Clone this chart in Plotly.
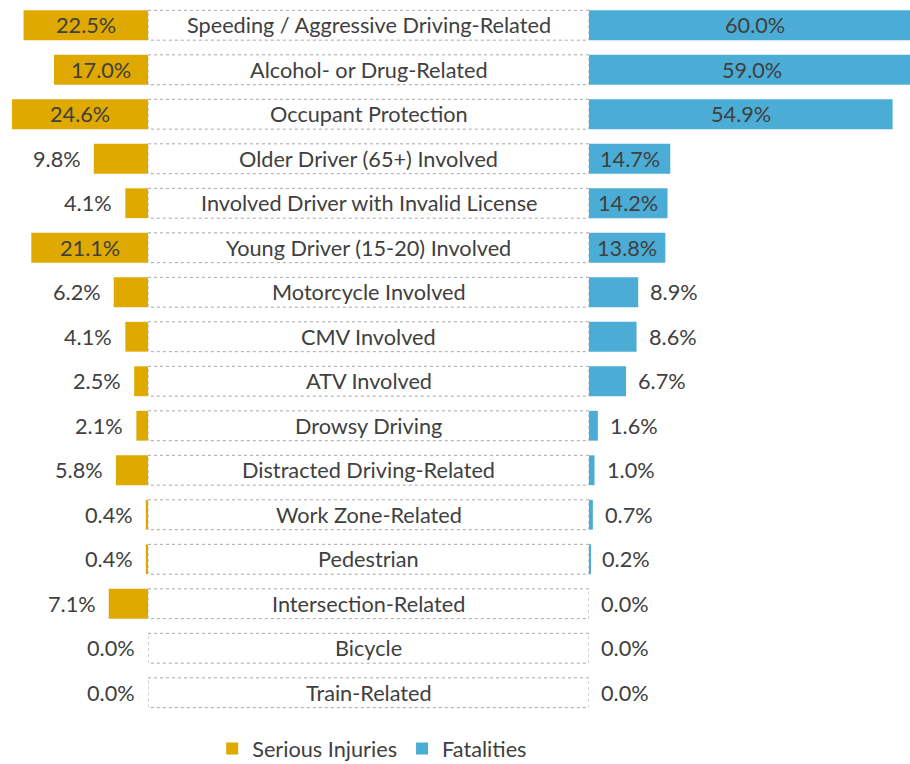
import plotly.graph_objects as go

categories = [
    "Speeding / Aggressive Driving-Related",
    "Alcohol- or Drug-Related",
    "Occupant Protection",
    "Older Driver (65+) Involved",
    "Involved Driver with Invalid License",
    "Young Driver (15-20) Involved",
    "Motorcycle Involved",
    "CMV Involved",
    "ATV Involved",
    "Drowsy Driving",
    "Distracted Driving-Related",
    "Work Zone-Related",
    "Pedestrian",
    "Intersection-Related",
    "Bicycle",
    "Train-Related",
]
serious_injuries = [22.5, 17.0, 24.6, 9.8, 4.1, 21.1, 6.2, 4.1, 2.5, 2.1, 5.8, 0.4, 0.4, 7.1, 0.0, 0.0]
fatalities = [60.0, 59.0, 54.9, 14.7, 14.2, 13.8, 8.9, 8.6, 6.7, 1.6, 1.0, 0.7, 0.2, 0.0, 0.0, 0.0]

GOLD = "#DFA900"
BLUE = "#4BADD5"
TXT = "#404040"
FONT = "Lato"
FS = 21.7

W, H = 910, 764
left_px, right_px = 148, 589
px_per_pct = 5.53

rows = list(range(len(categories)))

fig = go.Figure()

fig.add_trace(go.Bar(
    y=rows, x=serious_injuries, orientation="h", name="Serious Injuries",
    marker=dict(color=GOLD, line=dict(width=0)), xaxis="x", yaxis="y",
    hoverinfo="x+name",
))
fig.add_trace(go.Bar(
    y=rows, x=fatalities, orientation="h", name="Fatalities",
    marker=dict(color=BLUE, line=dict(width=0)), xaxis="x3", yaxis="y",
    hoverinfo="x+name",
))

shapes = []
for i in rows:
    shapes.append(dict(
        type="rect", xref="x2", yref="y", x0=0, x1=1, y0=i - 0.335, y1=i + 0.335,
        line=dict(color="#A6A6A6", width=1, dash="dot"), fillcolor="white", layer="below",
    ))

lab_font = dict(family=FONT, size=FS, color=TXT)
annotations = []
for i, c in zip(rows, categories):
    annotations.append(dict(
        xref="x2", yref="y", x=0.5, y=i, text=c, showarrow=False,
        xanchor="center", font=lab_font,
    ))
for i, v in zip(rows, serious_injuries):
    inside = v >= 10
    annotations.append(dict(
        xref="x", yref="y", x=v / 2 if inside else v, y=i, text=f"{v:.1f}%",
        showarrow=False, xanchor="center" if inside else "right",
        xshift=0 if inside else -11, font=lab_font,
    ))
for i, v in zip(rows, fatalities):
    inside = v >= 10
    annotations.append(dict(
        xref="x3", yref="y", x=v / 2 if inside else v, y=i, text=f"{v:.1f}%",
        showarrow=False, xanchor="center" if inside else "left",
        xshift=0 if inside else 10, font=lab_font,
    ))

fig.update_layout(
    width=W, height=H,
    margin=dict(l=0, r=0, t=3, b=49),
    paper_bgcolor="white", plot_bgcolor="white",
    bargap=0.33,
    font=dict(family=FONT, size=FS, color=TXT),
    xaxis=dict(domain=[0, left_px / W], range=[left_px / px_per_pct, 0], visible=False,
               fixedrange=True, anchor="y"),
    xaxis2=dict(domain=[left_px / W, right_px / W], range=[0, 1], visible=False,
                fixedrange=True, anchor="y"),
    xaxis3=dict(domain=[right_px / W, 1], range=[0, (W - right_px) / px_per_pct], visible=False,
                fixedrange=True, anchor="y"),
    yaxis=dict(range=[len(categories) - 0.5, -0.5], visible=False, fixedrange=True),
    shapes=shapes,
    annotations=annotations,
    showlegend=True,
    legend=dict(orientation="h", x=0.409, xanchor="center", xref="paper",
                yref="container", y=(H - 749) / H, yanchor="middle",
                font=dict(family=FONT, size=FS, color=TXT), traceorder="normal",
                itemclick=False),
)

fig.write_html("out.html", config={"displayModeBar": False},
               post_script="document.body.style.margin='0';")
